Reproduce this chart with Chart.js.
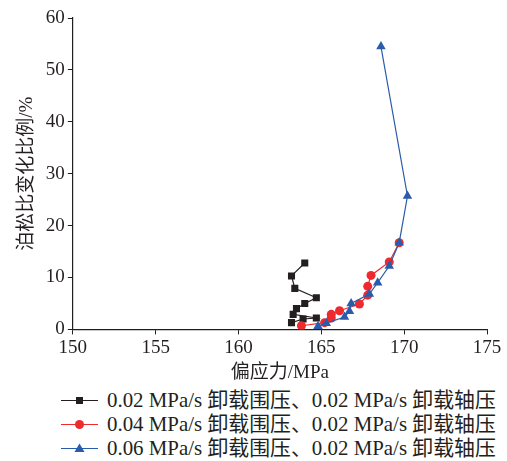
<!DOCTYPE html>
<html>
<head>
<meta charset="utf-8">
<script src="https://cdn.jsdelivr.net/npm/chart.js@4"></script>
<style>
    body { margin: 0; background: #fff; }
    #wrap { position: relative; width: 507px; height: 461px; }
    #chartBox { position: absolute; left: 0; top: 0; width: 507px; height: 384px; }
    #legend { position: absolute; left: 61px; top: 388px; font-family: "Liberation Serif", "Noto Sans CJK SC", serif; font-size: 20.9px; color: #231f20; }
    .row { height: 24px; line-height: 24px; display: flex; align-items: center; white-space: nowrap; }
    .row svg { margin-right: 9px; }
</style>
</head>
<body>
<div id="wrap">
    <div id="chartBox"><canvas id="poissonChart" width="507" height="384"></canvas></div>
    <div id="legend"></div>
</div>
<script>
// Poisson ratio change vs deviatoric stress

const seriesLabels = [
    '0.02 MPa/s 卸载围压、0.02 MPa/s 卸载轴压',
    '0.04 MPa/s 卸载围压、0.02 MPa/s 卸载轴压',
    '0.06 MPa/s 卸载围压、0.02 MPa/s 卸载轴压'
];

// deviatoric stress (MPa)
const stress002 = [163.2, 163.9, 164.7, 163.3, 163.5, 164.0, 164.7, 163.4, 163.2, 164.0];
const stress004 = [163.8, 165.2, 165.6, 165.6, 166.1, 167.3, 167.8, 167.8, 168.0, 169.1, 169.7];
const stress006 = [164.8, 165.3, 166.4, 166.7, 166.8, 167.9, 168.4, 169.1, 169.7, 170.2, 168.6];

// Poisson ratio change (%)
const ratio002 = [1.3, 2.0, 2.2, 2.9, 4.0, 5.0, 6.1, 7.9, 10.3, 12.8];
const ratio004 = [0.7, 1.3, 2.2, 2.9, 3.6, 4.9, 6.6, 8.3, 10.4, 13.0, 16.7];
const ratio006 = [0.6, 1.2, 2.4, 3.5, 5.0, 6.8, 9.0, 12.2, 16.7, 25.7, 54.5];

const xTicks = [150, 155, 160, 165, 170, 175];
const yTicks = [0, 10, 20, 30, 40, 50, 60];

const colors = ['#231f20', '#ee2a2e', '#2b5cab'];
const markers = ['rect', 'circle', 'triangle'];
const radii = [5, 4.5, 5.5];

function toPoints(xs, ys) {
    return xs.map((x, i) => ({ x: x, y: ys[i] }));
}

const pointSets = [
    toPoints(stress002, ratio002),
    toPoints(stress004, ratio004),
    toPoints(stress006, ratio006)
];

const datasets = pointSets.map((pts, i) => ({
    label: seriesLabels[i],
    data: pts,
    showLine: true,
    borderColor: colors[i],
    backgroundColor: colors[i],
    borderWidth: 1.2,
    pointStyle: markers[i],
    pointRadius: radii[i],
    pointBorderWidth: 0,
    order: 3 - i
}));

const tickFont = { family: '"Liberation Serif", serif', size: 19 };
const cjkFont = { family: '"Liberation Serif", "Noto Sans CJK SC", serif', size: 19 };

new Chart(document.getElementById('poissonChart'), {
    type: 'scatter',
    data: { datasets: datasets },
    options: {
        responsive: false,
        animation: false,
        devicePixelRatio: 1,
        layout: { padding: { left: 16, right: 20, top: 18, bottom: 0 } },
        plugins: {
            legend: { display: false },
            tooltip: { enabled: false }
        },
        scales: {
            x: {
                type: 'linear',
                min: 150,
                max: 175,
                afterBuildTicks: axis => { axis.ticks = xTicks.map(v => ({ value: v })); },
                grid: { drawOnChartArea: false, tickLength: 5, color: '#231f20' },
                border: { color: '#231f20', width: 1.2 },
                ticks: { font: tickFont, color: '#231f20', padding: 2, maxRotation: 0 },
                title: { display: true, text: '偏应力/MPa', font: cjkFont, color: '#231f20', padding: { top: 0, bottom: 0 } }
            },
            y: {
                type: 'linear',
                min: 0,
                max: 60,
                afterBuildTicks: axis => { axis.ticks = yTicks.map(v => ({ value: v })); },
                grid: { drawOnChartArea: false, tickLength: 5, color: '#231f20' },
                border: { color: '#231f20', width: 1.2 },
                ticks: { font: tickFont, color: '#231f20', padding: 3 },
                title: { display: true, text: '泊松比变化比例/%', font: cjkFont, color: '#231f20', padding: { top: 0, bottom: 4 } }
            }
        }
    }
});

// custom legend: line with marker, one entry per row
function markerSvg(i) {
    const c = colors[i];
    let shape = '';
    if (markers[i] === 'rect') shape = `<rect x="15" y="4" width="7" height="7" fill="${c}"/>`;
    if (markers[i] === 'circle') shape = `<circle cx="18.5" cy="7.5" r="4.5" fill="${c}"/>`;
    if (markers[i] === 'triangle') shape = `<polygon points="18.5,2.5 23.5,11 13.5,11" fill="${c}"/>`;
    return `<svg width="37" height="15"><line x1="0" y1="7.5" x2="37" y2="7.5" stroke="${c}" stroke-width="1.2"/>${shape}</svg>`;
}

let html = '';
seriesLabels.forEach((label, i) => {
    html += `<div class="row">${markerSvg(i)}<span>${label}</span></div>`;
});
document.getElementById('legend').innerHTML = html;
</script>
</body>
</html>
